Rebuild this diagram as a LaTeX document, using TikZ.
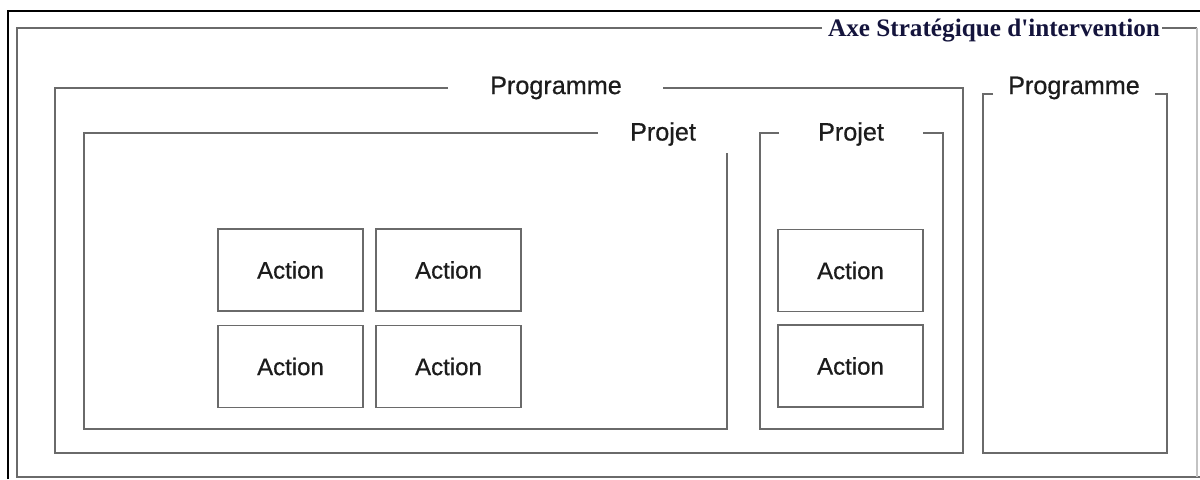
\documentclass[tikz,border=0pt]{standalone}
\usepackage{fontspec}
\setmainfont{Liberation Serif}
\setsansfont{Liberation Sans}
\newfontfamily\lblfont[FakeBold=0.6]{Liberation Sans}
\newfontfamily\titlefont{Liberation Serif}
\definecolor{framegray}{HTML}{6A6A6A}
\definecolor{labelink}{HTML}{1C1C1C}
\definecolor{titleink}{RGB}{20,20,60}
\begin{document}
\begin{tikzpicture}[x=0.5pt,y=-0.5pt,
  frame/.style={draw=framegray,line width=0.95pt},
  lbl/.style={inner sep=0pt,text=labelink,font=\lblfont\fontsize{12.6pt}{14pt}\selectfont},
  actionbox/.style={draw=framegray,line width=0.95pt,minimum width=72.5pt,minimum height=41pt,inner sep=0pt,
    text=labelink,font=\lblfont\fontsize{12pt}{14pt}\selectfont}]
\useasboundingbox (0,0) rectangle (1200,479);
% outer black frame
\draw[black,line width=1pt] (8,479) -- (8,11) -- (1200,11);
% axe frame
\node[inner sep=0pt,text=titleink,font=\titlefont\bfseries\fontsize{12.6pt}{14pt}\selectfont] (axe) at (994,31) {Axe Stratégique d'intervention};
\draw[frame] (822,28) -- (17,28) -- (17,477) -- (1200,477);
\draw[frame] (1162,28) -- (1197,28);
\draw[draw=framegray!40,line width=0.6pt] (1197,28) -- (1197,477);
% Programme 1
\node[lbl] (prog1) at (556,88) {Programme};
\draw[frame] (448,88) -- (55,88) -- (55,453) -- (963,453) -- (963,88) -- (663,88);
% Programme 2
\node[lbl] (prog2) at (1074,88) {Programme};
\draw[frame] (993,94) -- (983,94) -- (983,453) -- (1167,453) -- (1167,94) -- (1155,94);
% Projet 1
\node[lbl] (proj1) at (663,134) {Projet};
\draw[frame] (598,133) -- (84,133) -- (84,429) -- (727,429) -- (727,153);
% Projet 2
\node[lbl] (proj2) at (851,134) {Projet};
\draw[frame] (779,133) -- (760,133) -- (760,429) -- (943,429) -- (943,133) -- (923,133);
% Actions
\node[actionbox] (a11) at (290.5,270) {Action};
\node[actionbox] (a12) at (448.5,270) {Action};
\node[actionbox] (a21) at (290.5,366.5) {Action};
\node[actionbox] (a22) at (448.5,366.5) {Action};
\node[actionbox] (b1) at (850.5,270.5) {Action};
\node[actionbox] (b2) at (850.5,366) {Action};
\end{tikzpicture}
\end{document}
